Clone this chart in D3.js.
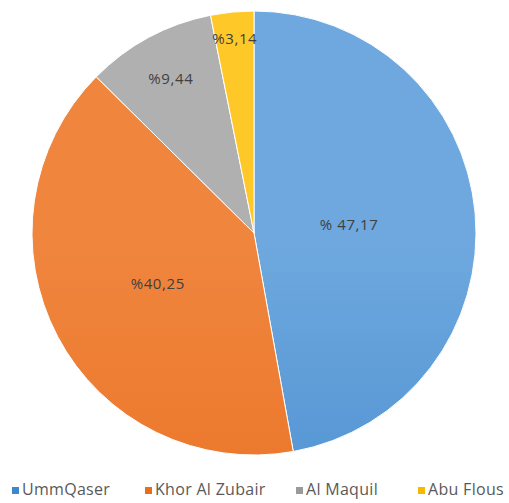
<!DOCTYPE html>
<html>
<head>
<meta charset="utf-8">
<script src="https://cdn.jsdelivr.net/npm/d3@7"></script>
<style>
  body { margin: 0; background: #fff; }
  text { font-family: "Open Sans", "Noto Sans", sans-serif; }
</style>
</head>
<body>
<svg id="chart" width="509" height="503"></svg>
<script>
var categories = ["UmmQaser", "Khor Al Zubair", "Al Maquil", "Abu Flous"];
var values = [47.17, 40.25, 9.44, 3.14];
var labels = ["% 47,17", "%40,25", "%9,44", "%3,14"];
var colors = [
  ["#6ea8de", "#3f86cc"],
  ["#f0853e", "#e86e1c"],
  ["#b0b0b0", "#9a9a9a"],
  ["#ffc829", "#f7b800"]
];
// label distance from centre, as share of radius
var labelPos = [0.43, 0.49, 0.79, 0.88];

var svg = d3.select("#chart"),
  cx = 254, cy = 233, radius = 222;

var defs = svg.append("defs");
colors.forEach(function(c, i) {
  var g = defs.append("linearGradient")
    .attr("id", "grad" + i)
    .attr("gradientUnits", "userSpaceOnUse")
    .attr("x1", 0).attr("y1", cy - radius)
    .attr("x2", 0).attr("y2", cy + radius);
  g.append("stop").attr("offset", "0%").attr("stop-color", c[0]);
  g.append("stop").attr("offset", "100%").attr("stop-color", c[1]);
});

var pie = d3.pie().sort(null).value(function(d) { return d; });
var arcs = pie(values);
var arc = d3.arc().innerRadius(0).outerRadius(radius);

var g = svg.append("g").attr("transform", "translate(" + cx + "," + cy + ")");
g.selectAll("path").data(arcs).enter().append("path")
  .attr("d", arc)
  .attr("fill", function(d, i) { return "url(#grad" + i + ")"; })
  .attr("stroke", "#fff")
  .attr("stroke-width", 1);

g.selectAll("text.lbl").data(arcs).enter().append("text")
  .attr("class", "lbl")
  .attr("transform", function(d, i) {
    var a = (d.startAngle + d.endAngle) / 2, r = radius * labelPos[i];
    return "translate(" + (Math.sin(a) * r) + "," + (-Math.cos(a) * r) + ")";
  })
  .attr("text-anchor", "middle")
  .attr("dy", "0.35em")
  .attr("font-size", 15)
  .attr("letter-spacing", 0.6)
  .attr("fill", "#404040")
  .text(function(d, i) { return labels[i]; });

// legend
var legendStart = [12, 145, 296, 418];
var leg = svg.append("g").attr("transform", "translate(0,495)");
var item = leg.selectAll("g").data(categories).enter().append("g")
  .attr("transform", function(d, i) { return "translate(" + legendStart[i] + ",0)"; });
item.append("rect")
  .attr("x", 0).attr("y", -8)
  .attr("width", 7).attr("height", 7)
  .attr("fill", function(d, i) { return colors[i][1]; });
item.append("text")
  .attr("x", 10)
  .attr("font-size", 16)
  .attr("letter-spacing", 0.3)
  .attr("fill", "#595959")
  .text(function(d) { return d; });
</script>
</body>
</html>
